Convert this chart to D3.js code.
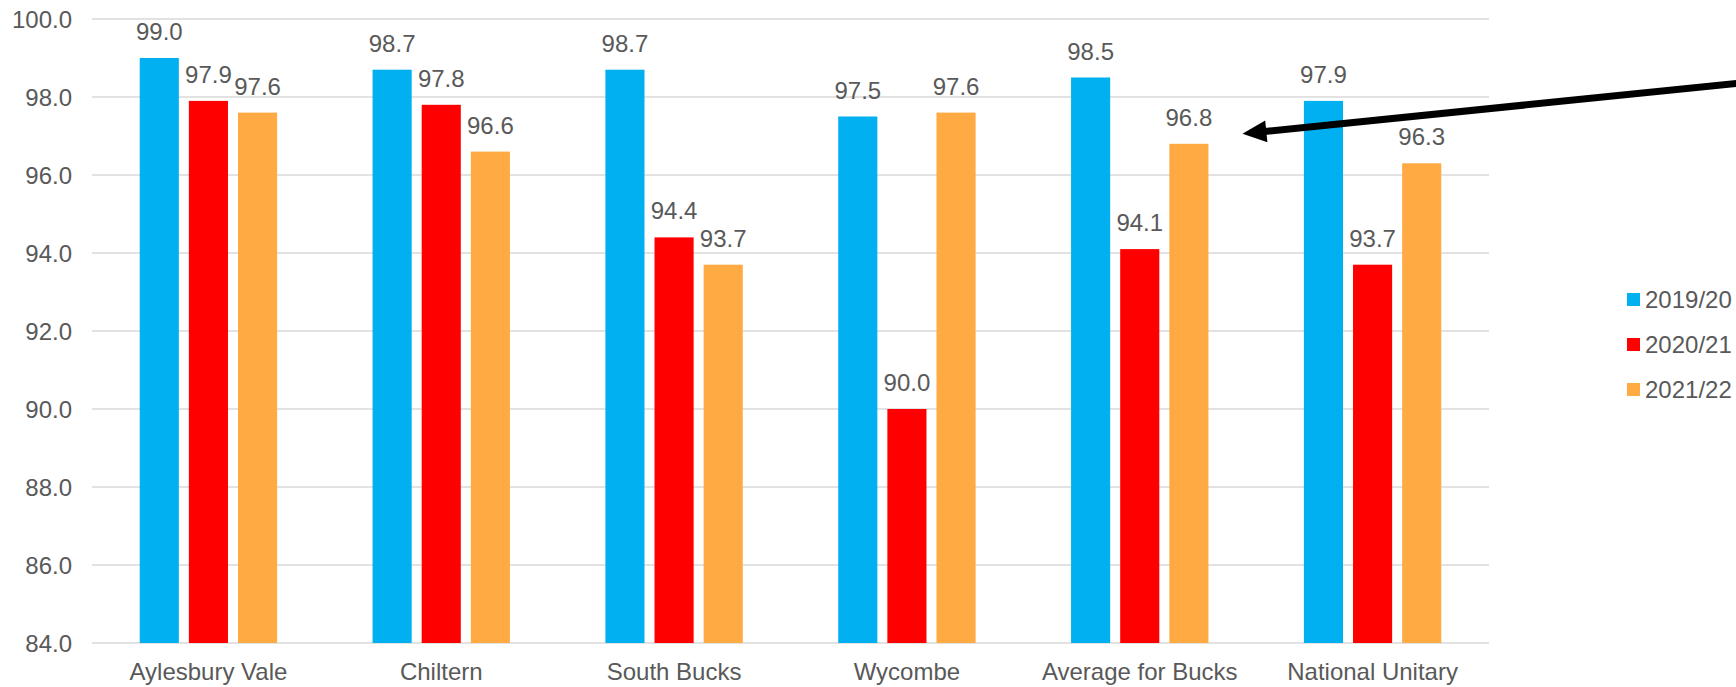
<!DOCTYPE html>
<html>
<head>
<meta charset="utf-8">
<script src="https://cdn.jsdelivr.net/npm/d3@7"></script>
<style>
  html, body { margin: 0; padding: 0; background: #fff; }
  svg text { font-family: "Liberation Sans", Arial, sans-serif; fill: #595959; }
</style>
</head>
<body>
<svg id="chart" width="1736" height="687"></svg>
<script>
// chart data
const categories = ['Aylesbury Vale', 'Chiltern', 'South Bucks', 'Wycombe', 'Average for Bucks', 'National Unitary'];
const seriesNames = ['2019/20', '2020/21', '2021/22'];
const values2019 = [99.0, 98.7, 98.7, 97.5, 98.5, 97.9];
const values2020 = [97.9, 97.8, 94.4, 90.0, 94.1, 93.7];
const values2021 = [97.6, 96.6, 93.7, 97.6, 96.8, 96.3];
const yTicks = [84, 86, 88, 90, 92, 94, 96, 98, 100];
const colors = ['#00B0F0', '#FF0000', '#FFAA42'];

const svg = d3.select('#chart');
const margin = { top: 19, left: 92, right: 247, bottom: 44 };
const width = 1736 - margin.left - margin.right;
const height = 687 - margin.top - margin.bottom;
const g = svg.append('g').attr('transform', `translate(${margin.left},${margin.top})`);

const allValues = [values2019, values2020, values2021];
const data = categories.map((c, i) => ({
  category: c,
  values: seriesNames.map((s, j) => ({ series: s, value: allValues[j][i] }))
}));

// scales
const x0 = d3.scaleBand().domain(categories).range([0, width]).paddingInner(0.41).paddingOuter(0.205);
const x1 = d3.scaleBand().domain(seriesNames).range([0, x0.bandwidth()]).paddingInner(0.204);
const y = d3.scaleLinear().domain([84, 100]).range([height, 0]);
const z = d3.scaleOrdinal().domain(seriesNames).range(colors);

// gridlines
g.append('g')
  .selectAll('line')
  .data(yTicks)
  .enter()
  .append('line')
  .attr('x1', 0)
  .attr('x2', width)
  .attr('y1', d => y(d))
  .attr('y2', d => y(d))
  .attr('stroke', '#D9D9D9')
  .attr('stroke-width', 1.5);

// y axis labels
g.append('g')
  .selectAll('text')
  .data(yTicks)
  .enter()
  .append('text')
  .attr('x', -20)
  .attr('y', d => y(d))
  .attr('dy', '0.36em')
  .attr('text-anchor', 'end')
  .style('font-size', '24px')
  .text(d => d.toFixed(1));

// x axis labels
g.append('g')
  .selectAll('text')
  .data(categories)
  .enter()
  .append('text')
  .attr('x', d => x0(d) + x0.bandwidth() / 2)
  .attr('y', height + 37)
  .attr('text-anchor', 'middle')
  .style('font-size', '24px')
  .text(d => d);

// bars
const groups = g.selectAll('.group')
  .data(data)
  .enter()
  .append('g')
  .attr('class', 'group')
  .attr('transform', d => `translate(${x0(d.category)},0)`);

groups.selectAll('rect')
  .data(d => d.values)
  .enter()
  .append('rect')
  .attr('x', d => x1(d.series))
  .attr('width', x1.bandwidth())
  .attr('y', d => y(d.value))
  .attr('height', d => height - y(d.value))
  .attr('fill', d => z(d.series));

groups.selectAll('.label')
  .data(d => d.values)
  .enter()
  .append('text')
  .attr('class', 'label')
  .attr('x', d => x1(d.series) + x1.bandwidth() / 2)
  .attr('y', d => y(d.value) - 18)
  .attr('text-anchor', 'middle')
  .style('font-size', '24px')
  .text(d => d.value.toFixed(1));

// legend
const legend = svg.append('g')
  .attr('transform', 'translate(1627,293)');

const items = legend.selectAll('g')
  .data(seriesNames)
  .enter()
  .append('g')
  .attr('transform', (d, i) => `translate(0,${i * 45})`);

items.append('rect')
  .attr('width', 13)
  .attr('height', 13)
  .attr('fill', d => z(d));

items.append('text')
  .attr('x', 18)
  .attr('y', 15)
  .style('font-size', '24px')
  .text(d => d);

// arrow pointing at the bucks average for 2021/22
const target = data[4].values[2];
const tipX = margin.left + x0(data[4].category) + x1(target.series) + x1.bandwidth() + 34;
const tipY = margin.top + y(target.value) - 10;
const tailX = 1740;
const tailY = tipY - 0.102 * (tailX - tipX);
const ang = Math.atan2(tailY - tipY, tailX - tipX);
const headLen = 24, headHalf = 11;
const bx = tipX + headLen * Math.cos(ang), by = tipY + headLen * Math.sin(ang);

svg.append('line')
  .attr('x1', bx - 2 * Math.cos(ang))
  .attr('y1', by - 2 * Math.sin(ang))
  .attr('x2', tailX)
  .attr('y2', tailY)
  .attr('stroke', '#000')
  .attr('stroke-width', 7);

svg.append('path')
  .attr('d', d3.line()([
    [tipX, tipY],
    [bx - headHalf * Math.sin(ang), by + headHalf * Math.cos(ang)],
    [bx + headHalf * Math.sin(ang), by - headHalf * Math.cos(ang)]
  ]) + 'Z')
  .attr('fill', '#000');
</script>
</body>
</html>
